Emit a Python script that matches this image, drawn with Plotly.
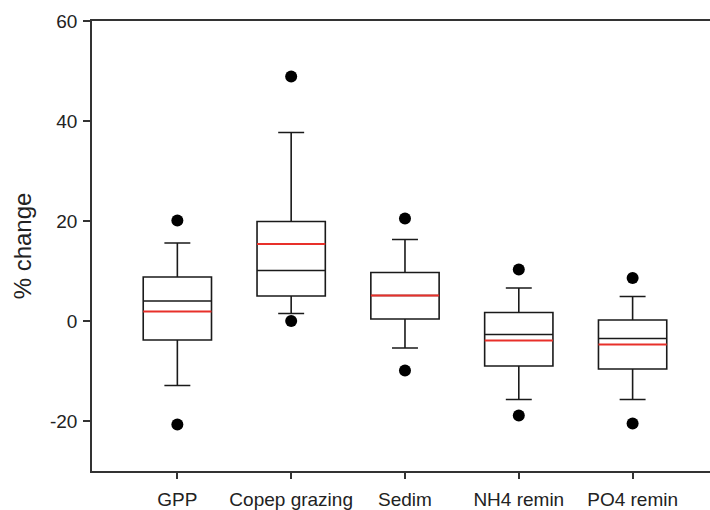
import plotly.graph_objects as go

categories = ["GPP", "Copep grazing", "Sedim", "NH4 remin", "PO4 remin"]
q1 = [-3.8, 5.0, 0.4, -9.0, -9.6]
median = [4.0, 10.1, 5.1, -2.7, -3.5]
q3 = [8.8, 19.9, 9.7, 1.7, 0.2]
mean = [1.9, 15.4, 5.1, -3.9, -4.7]
lower_whisker = [-12.9, 1.5, -5.4, -15.7, -15.7]
upper_whisker = [15.6, 37.7, 16.3, 6.6, 4.9]
low_outlier = [-20.7, 0.0, -9.9, -18.9, -20.5]
high_outlier = [20.1, 48.9, 20.5, 10.3, 8.6]

y_ticks = [-20, 0, 20, 40, 60]

FONT = "Liberation Sans, Arial, sans-serif"

fig = go.Figure()

fig.add_trace(go.Box(
    x=categories,
    q1=q1, median=median, q3=q3,
    lowerfence=lower_whisker, upperfence=upper_whisker,
    width=0.6, whiskerwidth=0.38,
    line=dict(color="#1a1a1a", width=1.6),
    fillcolor="rgba(0,0,0,0)",
    boxpoints=False,
    showlegend=False,
    hoverinfo="skip",
))

# mean lines (red)
fig.add_trace(go.Box(
    x=categories,
    q1=mean, median=mean, q3=mean,
    lowerfence=mean, upperfence=mean,
    width=0.6, whiskerwidth=0,
    line=dict(color="#e8302a", width=1.8),
    fillcolor="rgba(0,0,0,0)",
    boxpoints=False,
    showlegend=False,
    hoverinfo="skip",
))

fig.add_trace(go.Scatter(
    x=categories + categories,
    y=high_outlier + low_outlier,
    mode="markers",
    marker=dict(color="black", size=12),
    showlegend=False,
    hoverinfo="skip",
))

fig.update_layout(
    width=710, height=510,
    margin=dict(l=92, r=0, t=21, b=39),
    paper_bgcolor="white", plot_bgcolor="white",
    boxmode="overlay",
    font=dict(family=FONT, size=18, color="#222222"),
)

fig.update_xaxes(
    type="category",
    categoryorder="array", categoryarray=categories,
    range=[-0.75, 4.68],
    automargin=False,
    showline=True, linecolor="#333333", linewidth=1.5, mirror=True,
    ticks="outside", ticklen=6, tickwidth=1.5, tickcolor="#333333",
    ticklabelstandoff=4,
    showgrid=False, zeroline=False,
    tickfont=dict(size=19),
)

fig.update_yaxes(
    range=[-30, 60],
    automargin=False,
    tickmode="array", tickvals=y_ticks, ticktext=[str(v) for v in y_ticks],
    showline=True, linecolor="#333333", linewidth=1.5,
    ticks="outside", ticklen=7, tickwidth=1.5, tickcolor="#333333",
    ticklabelstandoff=2,
    showgrid=False, zeroline=False,
    tickfont=dict(size=19),
    title=dict(text="% change", font=dict(size=24), standoff=12),
)

fig.write_html(
    "out.html",
    config={"displayModeBar": False},
    post_script="document.body.style.margin='0';document.body.style.overflow='hidden';",
)
